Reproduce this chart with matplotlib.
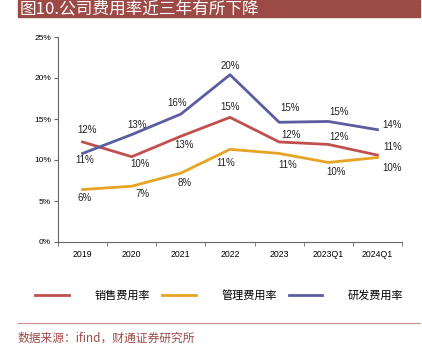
import matplotlib.pyplot as plt
from matplotlib.lines import Line2D
import numpy as np

plt.rcParams['font.family'] = ['Liberation Sans', 'Noto Sans CJK SC']

categories = ['2019', '2020', '2021', '2022', '2023', '2023Q1', '2024Q1']
sales_rate = [12.2, 10.4, 12.9, 15.2, 12.2, 11.9, 10.6]
admin_rate = [6.4, 6.8, 8.4, 11.3, 10.8, 9.7, 10.3]
rd_rate = [10.8, 13.1, 15.6, 20.4, 14.6, 14.7, 13.7]
series_names = ['销售费用率', '管理费用率', '研发费用率']
title = '图10.公司费用率近三年有所下降'
source = '数据来源：ifind，财通证券研究所'

colors = ['#C0504D', '#E5A423', '#5A5DA0']
# label offsets in pixels (dx, dy) per point
offsets = [
    [(4, 12), (8, -7), (3, -9), (0, 10), (12, 7), (11, 7), (15, 8)],
    [(2, -8), (11, -8), (4, -10), (-4, -14), (9, -12), (8, -10), (15, -10)],
    [(2, -7), (5, 10), (-4, 11), (0, 9), (11, 14), (11, 9), (15, 5)],
]

fig = plt.figure(figsize=(4.22, 3.52), dpi=100)

# title bar
fig.patches.append(plt.Rectangle((18 / 422, 1 - 17 / 352), 402 / 422, 17 / 352,
                                 transform=fig.transFigure, color='#9C4A46', zorder=0))
fig.text(20 / 422, 1 - 9 / 352, title, color='white', fontsize=12,
         family='Noto Sans CJK SC', va='center', ha='left')

ax = fig.add_axes([58 / 422, 110 / 352, 344 / 422, 205 / 352])
x = np.arange(len(categories))
for vals, c, offs in zip([sales_rate, admin_rate, rd_rate], colors, offsets):
    ax.plot(x, vals, color=c, lw=2)
    for xi, v, o in zip(x, vals, offs):
        ax.annotate(f'{v:.0f}%', (xi, v), xytext=o, textcoords='offset pixels',
                    ha='center', va='center', fontsize=7, color='#222222')

ax.set_xlim(-0.5, len(categories) - 0.5)
ax.set_ylim(0, 25)
ax.set_yticks(np.arange(0, 26, 5))
ax.set_yticklabels([f'{t}%' for t in range(0, 26, 5)], fontsize=6)
ax.set_xticks(x)
ax.set_xticklabels(categories, fontsize=6.3)
ax.set_xticks(np.arange(-0.5, len(categories), 1), minor=True)
ax.tick_params(axis='x', which='major', length=0, pad=6)
ax.tick_params(axis='x', which='minor', length=3, color='#666666')
ax.tick_params(axis='y', length=3, color='#666666', pad=2)
for s in ['top', 'right']:
    ax.spines[s].set_visible(False)
for s in ['left', 'bottom']:
    ax.spines[s].set_color('#666666')
    ax.spines[s].set_linewidth(0.8)

handles = [Line2D([0], [0], color=c, lw=2) for c in colors]
fig.legend(handles, series_names, loc='center', bbox_to_anchor=(0.52, 1 - 295 / 352),
           ncol=3, frameon=False, handlelength=3.0, handletextpad=2.3, columnspacing=1.1,
           prop={'family': 'Noto Sans CJK SC', 'size': 8})

fig.add_artist(Line2D([18 / 422, 420 / 422], [1 - 323 / 352, 1 - 323 / 352],
                      transform=fig.transFigure, color='#C98F8C', lw=0.8))
fig.text(18 / 422, 1 - 338 / 352, source, color='#9C4A46', fontsize=8.5,
         family='Noto Sans CJK SC', va='center', ha='left')

fig.savefig('out.png', dpi=100)
